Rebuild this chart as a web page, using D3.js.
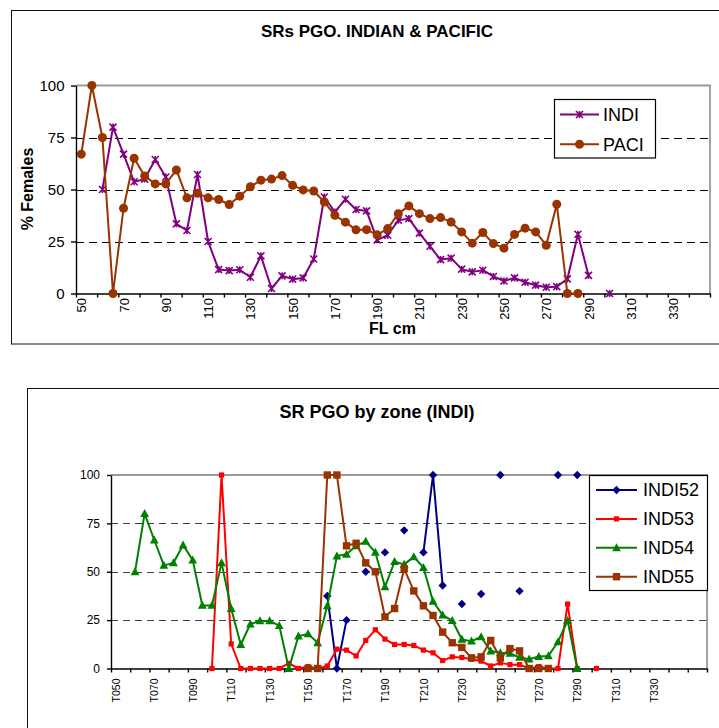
<!DOCTYPE html>
<html>
<head>
<meta charset="utf-8">
<script src="https://cdn.jsdelivr.net/npm/d3@7"></script>
<style>
  body { margin: 0; background: #fff; }
  svg { display: block; font-family: "Liberation Sans", Arial, sans-serif; }
</style>
</head>
<body>
<svg id="chart" width="719" height="728"></svg>
<script>
// ---- data -------------------------------------------------------------------

// fork length classes (cm), one category every 5 cm
const flSizes = [50, 55, 60, 65, 70, 75, 80, 85, 90, 95, 100, 105, 110, 115, 120,
  125, 130, 135, 140, 145, 150, 155, 160, 165, 170, 175, 180, 185, 190, 195, 200,
  205, 210, 215, 220, 225, 230, 235, 240, 245, 250, 255, 260, 265, 270, 275, 280,
  285, 290, 295, 300, 305, 310, 315, 320, 325, 330, 335, 340, 345];

const indi = [null, null, 50, 80, 67, 53.7, 55, 64.4, 56, 33.5, 30.3, 57.2, 25,
  11.5, 11, 11.4, 7.8, 18.1, 2.4, 8.5, 6.9, 7.5, 16.6, 46.4, 39.2, 45.3, 40.4,
  39.7, 25.8, 28, 35.2, 36, 29, 22.7, 16.3, 17, 11.7, 10.4, 11.2, 8.2, 6, 7.5,
  5.4, 4, 3, 3.3, 7, 28.5, 8.7, null, 0];

const paci = [67, 100, 75, 0, 41, 65, 56.5, 52.7, 52.7, 59.4, 46, 48.2, 46, 45.2,
  42.8, 46.8, 51.3, 54.5, 55, 56.7, 52, 49.8, 49.3, 44, 37.6, 34.3, 30.6, 30.7,
  28.2, 31.2, 38.4, 42.1, 38.4, 36, 36.5, 34.4, 29.6, 24.2, 29.3, 24, 21.8, 28.4,
  31.4, 29.6, 23.2, 42.9, 0, 0];

// zone chart: same classes with a T prefix, plus two empty trailing categories
const zoneCats = ['T050', 'T055', 'T060', 'T065', 'T070', 'T075', 'T080', 'T085',
  'T090', 'T095', 'T100', 'T105', 'T110', 'T115', 'T120', 'T125', 'T130', 'T135',
  'T140', 'T145', 'T150', 'T155', 'T160', 'T165', 'T170', 'T175', 'T180', 'T185',
  'T190', 'T195', 'T200', 'T205', 'T210', 'T215', 'T220', 'T225', 'T230', 'T235',
  'T240', 'T245', 'T250', 'T255', 'T260', 'T265', 'T270', 'T275', 'T280', 'T285',
  'T290', 'T295', 'T300', 'T305', 'T310', 'T315', 'T320', 'T325', 'T330', 'T335',
  'T340', 'T345', '', ''];

const ind52 = [null, null, null, null, null, null, null, null, null, null, null,
  null, null, null, null, null, null, null, null, null, null, null,
  37.5, 0, 25, null, 50, null, 60, null, 71.4, null, 60, 100, 42.9, null, 33.3,
  null, 38.5, null, 100, null, 40, null, null, null, 100, null, 100];

const ind53 = [null, null, null, null, null, null, null, null, null, null,
  0, 100, 12.7, 0, 0, 0, 0, 0, 2.6, 0, 1, 0, 1.3, 10, 9.5, 6.5, 14.5, 20, 15.2,
  12.4, 12.4, 11.9, 9.5, 8.1, 4.1, 6, 5.7, 4.8, 3.8, 1.3, 2.9, 2, 2, 0, 1, 0, 0,
  33.3, 0, null, 0];

const ind54 = [null, null, 50, 80, 66.4, 53.3, 54.6, 63.8, 56, 32.6, 32.6, 54.6,
  31, 12.4, 23, 24.6, 24.6, 22.2, 0, 16.7, 17.9, 13.3, 32.4, 58.1, 59, 63.4, 65.7,
  60, 42.2, 55.2, 53.8, 57.7, 52.2, 34.7, 27.6, 24.8, 15, 14.1, 16.3, 9, 8.1, 7.8,
  5.7, 4.8, 6.2, 6.5, 13.8, 24.8, 0];

const ind55 = [null, null, null, null, null, null, null, null, null, null, null,
  null, null, null, null, null, null, null, null, null,
  0, 0, 100, 100, 63.4, 64.7, 54.6, 50, 26.7, 31, 51.5, 40.1, 32.4, 27.4, 18.8,
  13.3, 10.9, 5.5, 6, 14.5, 5.5, 10.3, 9.1, 0, 0, 0];

const pctTicks = [0, 25, 50, 75, 100];
const pctGrid = [25, 50, 75];

// ---- drawing ----------------------------------------------------------------

const svg = d3.select('#chart');

function marker(sel, type, color) {
  // excel style markers
  if (type === 'circle') {
    sel.append('circle').attr('r', 4.5).attr('fill', color);
  } else if (type === 'star') {
    sel.append('path')
      .attr('d', 'M-3.5,-3.5L3.5,3.5M-3.5,3.5L3.5,-3.5M0,-3.5L0,3.5')
      .attr('stroke', color).attr('stroke-width', 1.6).attr('fill', 'none');
  } else if (type === 'diamond') {
    sel.append('path').attr('d', 'M0,-4.2L4.2,0L0,4.2L-4.2,0Z').attr('fill', color);
  } else if (type === 'smallsquare') {
    sel.append('rect').attr('x', -2.6).attr('y', -2.6).attr('width', 5.2).attr('height', 5.2).attr('fill', color);
  } else if (type === 'square') {
    sel.append('rect').attr('x', -3.7).attr('y', -3.7).attr('width', 7.4).attr('height', 7.4).attr('fill', color);
  } else if (type === 'triangle') {
    sel.append('path').attr('d', 'M0,-4.6L4.4,3.4L-4.4,3.4Z').attr('fill', color);
  }
}

function drawPanel(cfg) {
  const g = svg.append('g');
  const n = cfg.categories.length;

  const x = d3.scaleLinear().domain([0, n]).range([cfg.left, cfg.right]);
  const y = d3.scaleLinear().domain([0, 100]).range([cfg.bottom, cfg.top]);

  // chart area frame
  g.append('rect')
    .attr('x', cfg.frame[0]).attr('y', cfg.frame[1])
    .attr('width', cfg.frame[2]).attr('height', cfg.frame[3])
    .attr('fill', 'none').attr('stroke', '#111').attr('stroke-width', 1);

  g.append('text')
    .attr('x', cfg.title.x).attr('y', cfg.title.y)
    .attr('text-anchor', 'middle')
    .attr('font-weight', 'bold').attr('font-size', cfg.title.size)
    .text(cfg.title.text);

  // dashed gridlines
  g.selectAll('.grid').data(pctGrid).enter()
    .append('line')
      .attr('class', 'grid')
      .attr('x1', cfg.left).attr('x2', cfg.right)
      .attr('y1', d => Math.round(y(d)) + 0.5).attr('y2', d => Math.round(y(d)) + 0.5)
      .attr('stroke', cfg.gridColor)
      .attr('stroke-dasharray', cfg.dash);

  // plot area border (top and right, grey)
  g.append('path')
    .attr('d', `M${cfg.left},${y(100)}H${cfg.right}V${cfg.bottom}`)
    .attr('fill', 'none').attr('stroke', '#9a9a9a').attr('stroke-width', 1.8);

  // y axis
  const yAxis = g.append('g')
    .attr('transform', `translate(${cfg.left},0)`)
    .call(d3.axisLeft(y).tickValues(pctTicks).tickSize(cfg.yTick)
      .tickSizeOuter(0).tickPadding(cfg.yPad));
  yAxis.attr('font-family', null).attr('font-size', cfg.yFont);
  yAxis.selectAll('line, path').attr('stroke', '#000').attr('stroke-width', 1.4);
  yAxis.selectAll('text').attr('fill', '#000');

  // x axis: tick marks every second category boundary
  const xAxis = g.append('g')
    .attr('transform', `translate(0,${cfg.bottom})`)
    .call(d3.axisBottom(x).tickValues(d3.range(0, n + 1, 2)).tickSize(4)
      .tickSizeOuter(0).tickFormat(''));
  xAxis.selectAll('line, path').attr('stroke', '#000').attr('stroke-width', 1.4);

  // x labels every fourth category, centred in the category
  const labelIdx = d3.range(0, n, 4).filter(i => cfg.categories[i] !== '');
  const xLab = g.append('g')
    .attr('transform', `translate(0,${cfg.bottom})`)
    .call(d3.axisBottom(x).tickValues(labelIdx.map(i => i + 0.5)).tickSize(0)
      .tickFormat(v => cfg.categories[Math.floor(v)]));
  xLab.attr('font-family', null).attr('font-size', cfg.xFont);
  xLab.select('.domain').remove();
  xLab.selectAll('text')
    .attr('fill', '#000')
    .attr('transform', 'rotate(-90)')
    .attr('x', -cfg.xGap).attr('y', 0).attr('dy', '0.35em')
    .attr('text-anchor', 'end');

  if (cfg.yTitle) {
    g.append('text')
      .attr('transform', `translate(${cfg.yTitle.x},${cfg.yTitle.y}) rotate(-90)`)
      .attr('text-anchor', 'middle')
      .attr('font-weight', 'bold').attr('font-size', cfg.yTitle.size)
      .text(cfg.yTitle.text);
  }
  if (cfg.xTitle) {
    g.append('text')
      .attr('x', cfg.xTitle.x).attr('y', cfg.xTitle.y)
      .attr('text-anchor', 'middle')
      .attr('font-weight', 'bold').attr('font-size', cfg.xTitle.size)
      .text(cfg.xTitle.text);
  }

  // series
  const line = d3.line()
    .defined(d => d != null)
    .x((d, i) => x(i + 0.5))
    .y(d => y(d));

  cfg.series.forEach(function(s) {
    const sg = g.append('g');
    sg.append('path')
      .attr('d', line(s.values))
      .attr('fill', 'none')
      .attr('stroke', s.color)
      .attr('stroke-width', 2)
      .attr('stroke-linejoin', 'round');

    const pts = s.values.map((v, i) => ({ v: v, i: i })).filter(d => d.v != null);
    sg.selectAll('.pt').data(pts).enter()
      .append('g')
        .attr('class', 'pt')
        .attr('transform', d => `translate(${x(d.i + 0.5)},${y(d.v)})`)
        .each(function() { marker(d3.select(this), s.marker, s.color); });
  });

  // legend
  const lg = cfg.legend;
  g.append('rect')
    .attr('x', lg.box[0]).attr('y', lg.box[1])
    .attr('width', lg.box[2]).attr('height', lg.box[3])
    .attr('fill', '#fff').attr('stroke', '#000').attr('stroke-width', 1.2);

  const rows = g.selectAll('.legrow').data(cfg.series).enter()
    .append('g')
      .attr('class', 'legrow')
      .attr('transform', (d, i) => `translate(0,${lg.y0 + i * lg.step})`);

  rows.append('line')
    .attr('x1', lg.x0).attr('x2', lg.x1)
    .attr('stroke', d => d.color).attr('stroke-width', 2);
  rows.append('g')
    .attr('transform', `translate(${(lg.x0 + lg.x1) / 2},0)`)
    .each(function(d) { marker(d3.select(this), d.marker, d.color); });
  rows.append('text')
    .attr('x', lg.tx).attr('dy', '0.36em')
    .attr('font-size', lg.size)
    .text(d => d.name);
}

drawPanel({
  frame: [11.5, 10.5, 720, 333.5],
  left: 76, right: 710, top: 85.5, bottom: 293.5,
  categories: flSizes,
  title: { text: 'SRs PGO. INDIAN & PACIFIC', x: 377, y: 37, size: 17 },
  yTitle: { text: '% Females', x: 33, y: 189, size: 16 },
  xTitle: { text: 'FL cm', x: 392.5, y: 334, size: 16 },
  gridColor: '#000', dash: '8,5',
  yTick: 5, yPad: 6.5, yFont: 15,
  xFont: 13, xGap: 4.5,
  series: [
    { name: 'INDI', values: indi, color: '#800080', marker: 'star' },
    { name: 'PACI', values: paci, color: '#993300', marker: 'circle' }
  ],
  legend: { box: [554.5, 99.5, 101, 58.5], y0: 114.5, step: 29.7,
            x0: 560, x1: 599, tx: 603, size: 18 }
});

drawPanel({
  frame: [27.5, 388.5, 720, 400],
  left: 111, right: 707, top: 475, bottom: 668.5,
  categories: zoneCats,
  title: { text: 'SR PGO by zone (INDI)', x: 377, y: 417.5, size: 18 },
  gridColor: '#404040', dash: '7,5',
  yTick: 4, yPad: 7, yFont: 12,
  xFont: 10.5, xGap: 10,
  series: [
    { name: 'INDI52', values: ind52, color: '#000080', marker: 'diamond' },
    { name: 'IND53', values: ind53, color: '#ff0000', marker: 'smallsquare' },
    { name: 'IND54', values: ind54, color: '#008000', marker: 'triangle' },
    { name: 'IND55', values: ind55, color: '#993300', marker: 'square' }
  ],
  legend: { box: [589.5, 475.5, 118, 115], y0: 490, step: 28.9,
            x0: 596, x1: 637, tx: 643, size: 18 }
});
</script>
</body>
</html>
